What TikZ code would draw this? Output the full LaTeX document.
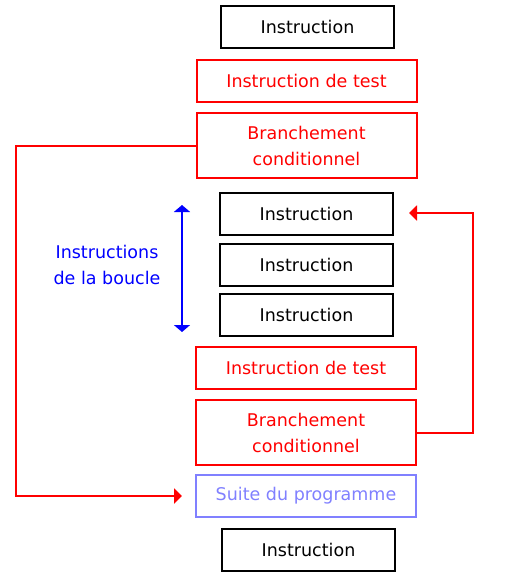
\documentclass[tikz,border=0pt]{standalone}
\usepackage{fontspec}
\setmainfont{DejaVu Sans}
\usetikzlibrary{arrows.meta}
\definecolor{suitecol}{RGB}{128,128,255}
\begin{document}
\begin{tikzpicture}[x=1pt,y=-1pt,
  font=\fontsize{17.5}{26}\selectfont,
  box/.style={draw,line width=2pt,minimum height=42pt,inner sep=0pt,align=center},
  instr/.style={box,black,minimum width=173pt},
  test/.style={box,red,minimum width=220pt},
  branch/.style={test,minimum height=65pt},
  suite/.style={box,suitecol,minimum width=220pt},
  tip/.style={-{Triangle[length=8pt,width=15pt]}},
  ]
  \useasboundingbox (0,0) rectangle (504,583);

  \node (i1) at (307.5,27) [instr]{Instruction};
  \node (t1) at (306.5,81) [test]{Instruction de test};
  \node (b1) at (306.5,145.5) [branch]{Branchement\\conditionnel};

  \node (i2) at (306.5,214) [instr]{Instruction};
  \node (i3) at (306.5,265) [instr]{Instruction};
  \node (i4) at (306.5,315) [instr]{Instruction};

  \node (t2) at (306,368) [test]{Instruction de test};
  \node (b2) at (306,432.5) [branch]{Branchement\\conditionnel};
  \node (suite) at (306,496) [suite]{Suite du programme};
  \node (i5) at (308.5,550) [instr]{Instruction};

  \coordinate (btop) at (182,205);
  \coordinate (bbot) at (182,332);
  \node (boucle) at (107,265) [blue,align=center]{Instructions\\de la boucle};
  \draw[blue,line width=2pt,{Triangle[length=7pt,width=16pt]}-{Triangle[length=7pt,width=16pt]}] (btop) -- (bbot);

  \coordinate (lft) at (16,496);
  \coordinate (rgt) at (473,213);

  \draw[red,line width=2pt,tip,shorten >=13pt] (b1.west) -| (lft) -- (suite.west);
  \draw[red,line width=2pt,tip,shorten >=15pt] (b2.east) -| (rgt) -- (rgt -| i2.east);

\end{tikzpicture}
\end{document}
